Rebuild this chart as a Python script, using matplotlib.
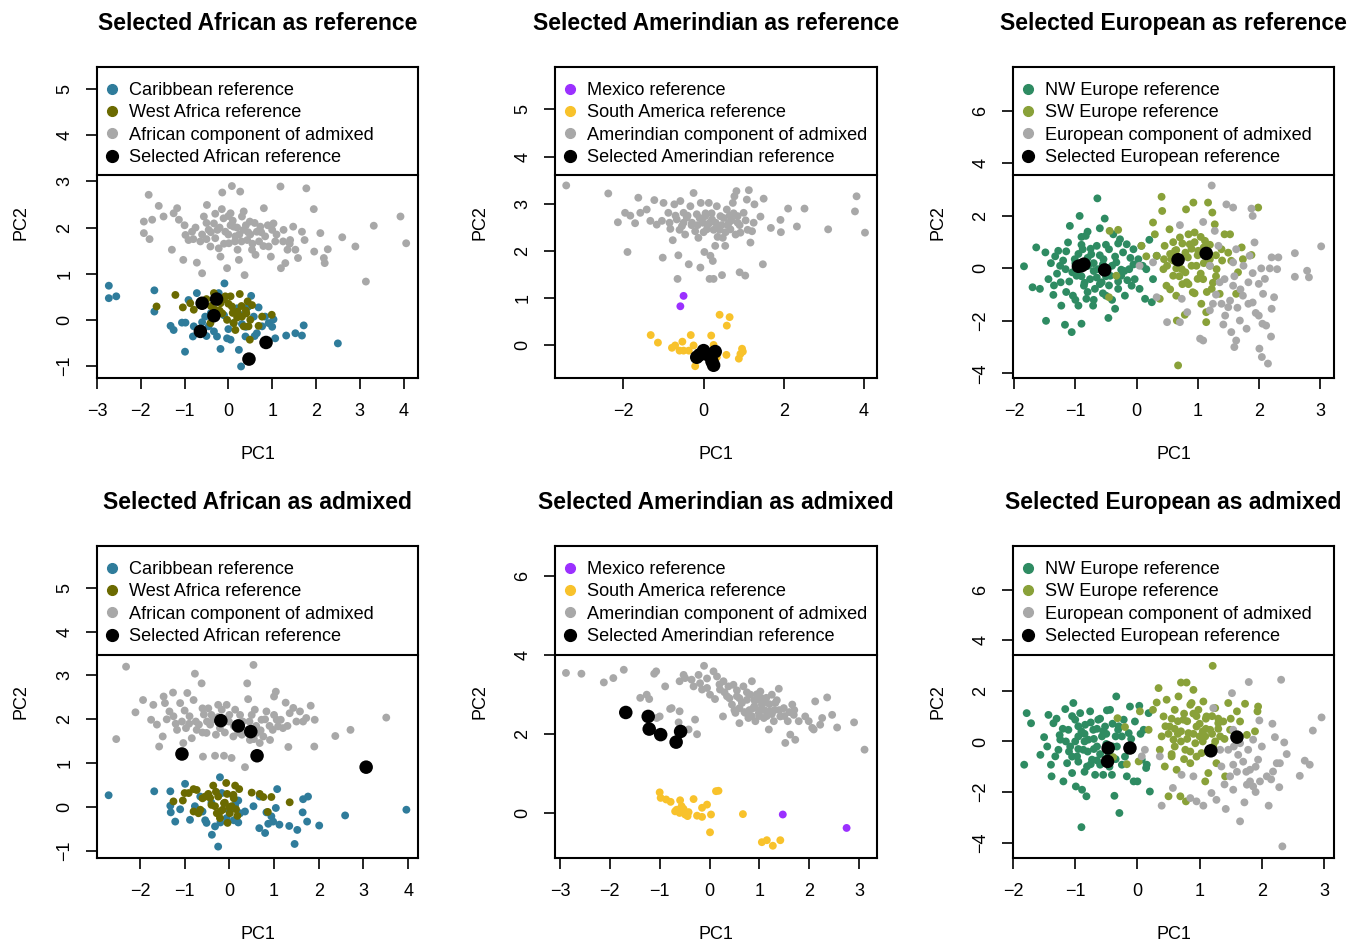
import matplotlib
matplotlib.use("Agg")
import matplotlib.pyplot as plt
from matplotlib.lines import Line2D
import numpy as np

plt.rcParams['font.family'] = ['Liberation Sans', 'DejaVu Sans']

# colours
col_carib = '#2F7C9B'
col_wafr = '#6B6A00'
col_mex = '#9B30FF'
col_sam = '#F8C22B'
col_nw = '#2E8B62'
col_sw = '#89A139'
col_adm = '#A8A8A8'
col_sel = 'black'

# ---------------- Selected African as reference ----------------
afr_ref_carib = [(-2.73, 0.74), (-2.73, 0.47), (-2.56, 0.51), (-1.69, 0.64), (-1.69, 0.18),
                 (-1.32, -0.13), (-1.25, -0.22), (-1.06, -0.06), (-0.98, -0.06), (-0.99, -0.69),
                 (-0.91, 0.43), (-0.79, -0.14), (-0.81, -0.36), (-0.72, 0.58), (-0.64, -0.29),
                 (-0.53, 0.07), (-0.45, -0.14), (-0.33, -0.25), (-0.26, -0.36), (-0.22, 0.58),
                 (-0.18, -0.63), (-0.09, 0.79), (-0.03, -0.40), (0.05, -0.43), (0.12, -0.07),
                 (0.24, -0.65), (0.29, -1.01), (0.31, -0.09), (0.39, -0.36), (0.46, 0.29),
                 (0.52, 0.52), (0.58, 0.07), (0.65, -0.29), (0.69, 0.27), (0.77, -0.14),
                 (0.84, 0.07), (0.92, -0.07), (1.03, 0.01), (1.07, -0.40), (1.32, -0.34),
                 (1.53, -0.29), (1.68, -0.34), (1.72, -0.12), (2.50, -0.51), (-0.60, -0.05),
                 (-0.40, 0.15), (0.00, -0.20), (0.20, 0.25), (0.40, -0.15), (-0.10, 0.10),
                 (0.60, -0.35), (1.00, -0.15), (-0.50, -0.35), (0.30, 0.10)]
afr_ref_wafr = [(-1.64, 0.29), (-1.21, 0.54), (-1.04, 0.27), (-0.87, 0.36), (-0.79, 0.22),
                (-0.64, 0.38), (-0.41, -0.07), (-0.33, 0.58), (-0.30, 0.22), (-0.18, 0.36),
                (-0.14, 0.14), (-0.07, 0.51), (-0.03, 0.00), (0.05, 0.51), (0.08, 0.29),
                (0.12, -0.07), (0.16, -0.22), (0.21, 0.18), (0.26, 0.56), (0.31, 0.07),
                (0.35, -0.14), (0.41, 0.14), (0.44, 0.40), (0.46, -0.14), (0.49, -0.43),
                (0.54, 0.32), (0.69, -0.13), (0.77, 0.07), (0.99, 0.11), (-0.50, 0.45),
                (-0.20, 0.20), (0.00, 0.35), (0.20, 0.05), (0.30, 0.30), (-0.40, 0.30),
                (0.10, 0.15), (0.40, 0.20), (-0.10, 0.45), (0.50, 0.00)]
afr_ref_adm = [(-1.82, 2.71), (-1.93, 1.88), (-1.80, 1.75), (-1.93, 2.13), (-1.74, 2.17),
               (-1.59, 2.47), (-1.48, 2.24), (-1.29, 1.52), (-1.25, 2.31), (-1.17, 2.42),
               (-1.13, 2.17), (-1.03, 1.30), (-0.98, 1.84), (-0.91, 1.73), (-0.83, 1.91),
               (-0.72, 1.24), (-0.64, 1.70), (-0.60, 1.01), (-0.56, 2.24), (-0.49, 2.49),
               (-0.45, 1.95), (-0.41, 1.59), (-0.33, 2.09), (-0.30, 1.77), (-0.22, 1.55),
               (-0.18, 1.37), (-0.14, 2.76), (-0.11, 2.20), (-0.07, 1.91), (-0.03, 1.12),
               (0.01, 1.66), (0.05, 2.31), (0.08, 2.90), (0.12, 2.02), (0.16, 1.81),
               (0.21, 1.52), (0.24, 1.30), (0.27, 2.78), (0.31, 2.24), (0.35, 1.95),
               (0.37, 0.97), (0.43, 1.73), (0.49, 2.13), (0.54, 1.52), (0.62, 1.41),
               (0.65, 1.91), (0.73, 2.02), (0.81, 2.42), (0.84, 1.81), (0.92, 1.59),
               (0.97, 1.37), (1.03, 2.09), (1.07, 1.70), (1.19, 2.89), (1.20, 1.12),
               (1.26, 1.95), (1.30, 1.23), (1.35, 1.52), (1.41, 1.73), (1.48, 2.02),
               (1.53, 1.52), (1.59, 1.34), (1.68, 1.91), (1.74, 1.73), (1.78, 2.85),
               (1.95, 2.40), (1.96, 1.48), (2.10, 1.88), (2.18, 1.34), (2.20, 1.23),
               (2.27, 1.53), (2.60, 1.79), (2.90, 1.59), (3.14, 0.83), (3.32, 2.04),
               (3.93, 2.24), (4.06, 1.66), (-0.20, 2.00), (0.00, 1.85), (0.10, 2.15),
               (0.30, 1.70), (0.50, 1.85), (-0.40, 1.90), (-0.60, 1.85), (0.60, 2.10),
               (0.90, 2.05), (0.20, 2.00), (-0.10, 1.65), (0.40, 2.05), (-0.30, 2.30),
               (0.70, 1.70), (1.10, 1.85), (0.00, 2.25), (-0.50, 2.10), (1.40, 1.65),
               (-0.80, 1.75), (0.80, 1.60), (-0.50, 1.75), (-0.25, 1.95), (0.05, 2.05),
               (0.25, 1.85), (0.45, 1.90), (0.75, 1.90), (1.00, 1.95), (-0.75, 2.00),
               (0.15, 1.70), (0.55, 1.65), (-0.15, 2.40), (0.35, 2.35), (1.25, 1.70),
               (-1.00, 2.05)]
afr_ref_sel = [(-0.60, 0.36), (-0.27, 0.45), (-0.33, 0.09), (-0.64, -0.25), (0.86, -0.49), (0.47, -0.85)]

# ---------------- Selected Amerindian as reference ----------------
ame_ref_mex = [(-0.50, 1.05), (-0.58, 0.83)]
ame_ref_sam = [(-1.32, 0.22), (-1.14, 0.06), (-0.79, -0.05), (-0.71, 0.00), (-0.60, -0.11),
               (-0.53, 0.08), (-0.50, -0.11), (-0.37, -0.11), (-0.32, 0.22), (-0.25, 0.00),
               (-0.21, -0.44), (-0.12, -0.18), (0.19, 0.21), (0.25, 0.01), (0.33, -0.25),
               (0.40, 0.65), (0.58, 0.42), (0.65, 0.60), (0.57, -0.20), (0.88, -0.28),
               (0.92, -0.18), (0.96, -0.07), (0.98, -0.13)]
ame_ref_adm = [(-3.43, 3.39), (-2.38, 3.22), (-2.14, 2.61), (-1.90, 1.98), (-1.96, 2.81),
               (-1.83, 2.75), (-1.71, 2.59), (-1.63, 3.13), (-1.58, 2.81), (-1.42, 2.88),
               (-1.33, 2.64), (-1.23, 3.08), (-1.17, 2.56), (-1.04, 2.64), (-1.00, 3.02),
               (-1.02, 1.86), (-0.88, 2.81), (-0.83, 2.47), (-0.77, 2.23), (-0.73, 2.99),
               (-0.67, 2.67), (-0.65, 1.41), (-0.63, 1.91), (-0.58, 3.06), (-0.54, 2.53),
               (-0.50, 2.81), (-0.46, 2.35), (-0.42, 2.71), (-0.37, 1.72), (-0.33, 2.95),
               (-0.29, 2.60), (-0.25, 3.23), (-0.21, 2.42), (-0.17, 2.78), (-0.13, 2.28),
               (-0.08, 1.65), (-0.07, 3.02), (-0.02, 2.60), (0.02, 1.98), (0.04, 2.74),
               (0.08, 2.46), (0.13, 3.02), (0.15, 1.41), (0.17, 1.90), (0.21, 2.67),
               (0.23, 1.79), (0.25, 1.41), (0.29, 2.11), (0.33, 2.95), (0.38, 2.53),
               (0.42, 2.74), (0.46, 1.49), (0.48, 2.28), (0.54, 2.11), (0.58, 2.88),
               (0.63, 2.60), (0.67, 2.46), (0.73, 3.02), (0.77, 3.16), (0.82, 3.27),
               (0.85, 2.74), (0.90, 1.55), (0.92, 2.39), (1.00, 2.81), (1.04, 1.48),
               (1.08, 3.09), (1.13, 3.29), (1.17, 2.18), (1.21, 2.42), (1.27, 2.99),
               (1.42, 2.73), (1.48, 1.72), (1.50, 3.11), (1.68, 2.49), (1.92, 2.66),
               (1.93, 2.40), (2.11, 2.90), (2.33, 2.52), (2.52, 2.90), (3.11, 2.46),
               (3.78, 2.84), (3.82, 3.16), (4.03, 2.39), (0.30, 2.60), (0.50, 2.70),
               (0.10, 2.55), (-0.10, 2.70), (0.40, 2.45), (0.60, 2.55), (-0.30, 2.55),
               (0.20, 2.80), (0.70, 2.65), (0.90, 2.55), (-0.50, 2.60), (1.10, 2.45),
               (0.00, 2.40), (-0.70, 2.75), (0.35, 2.30), (0.80, 2.35), (0.15, 2.60),
               (0.45, 2.55), (0.65, 2.75), (-0.15, 2.55), (0.25, 2.45), (0.55, 2.40),
               (-0.40, 2.75), (0.85, 2.60), (1.05, 2.65), (-0.60, 2.45), (0.05, 2.80),
               (1.25, 2.60), (0.75, 2.80), (-0.85, 2.60)]
ame_ref_sel = [(-0.10, -0.20), (-0.17, -0.25), (0.00, -0.11), (0.29, -0.13), (0.21, -0.34),
               (0.13, -0.21), (0.25, -0.42)]

# ---------------- Selected European as reference ----------------
eur_ref_nw = [(-1.84, 0.08), (-1.70, -0.72), (-1.64, 0.80), (-1.58, -0.78), (-1.48, -2.00),
              (-1.49, 0.61), (-1.44, -0.41), (-1.36, -1.01), (-1.33, 0.46), (-1.28, 0.67),
              (-1.24, -0.53), (-1.17, -2.15), (-1.23, -1.42), (-1.16, -0.03), (-1.12, 0.99),
              (-1.09, 1.62), (-1.06, -2.43), (-1.04, -1.04), (-1.01, 0.35), (-0.98, -0.28),
              (-0.95, -1.42), (-0.93, 2.00), (-0.90, -2.11), (-0.88, 0.73), (-0.86, -0.66),
              (-0.83, 1.24), (-0.82, -1.16), (-0.79, 0.10), (-0.76, -0.41), (-0.74, 0.54),
              (-0.71, -1.42), (-0.68, -0.78), (-0.64, 2.67), (-0.65, 0.86), (-0.63, -0.03),
              (-0.60, 1.53), (-0.57, -0.53), (-0.54, 0.35), (-0.52, 1.90), (-0.50, -1.04),
              (-0.46, -1.89), (-0.45, 0.73), (-0.43, -0.28), (-0.38, 1.30), (-0.35, -1.54),
              (-0.33, 0.23), (-0.30, -0.78), (-0.27, 1.11), (-0.25, -0.28), (-0.22, 0.61),
              (-0.19, -1.04), (-0.16, 0.92), (-0.12, -0.03), (-0.08, -0.66), (-0.05, 0.73),
              (-0.03, -0.41), (0.03, 0.35), (0.05, -0.78), (0.08, 0.86), (0.14, -1.16),
              (0.16, -0.03), (0.21, 1.09), (0.25, -1.29), (0.27, -0.41), (0.33, 0.48),
              (-1.00, 0.20), (-0.90, -0.30), (-0.80, 0.40), (-0.70, -0.10), (-0.60, 0.50),
              (-0.50, -0.30), (-0.40, 0.10), (-0.30, -0.50), (-0.60, -0.60), (-0.80, -0.90),
              (-1.10, -0.50), (-1.20, 0.30), (-0.90, 0.90), (-0.50, 0.90), (-0.20, -0.10),
              (-0.70, 0.20), (-1.00, -1.20), (-0.40, -1.20), (-1.30, -0.20), (-0.10, 0.40),
              (-0.80, 1.40), (-1.15, -0.90), (-1.25, 0.10), (-1.05, -0.15), (-0.95, 0.55),
              (-0.85, -0.55), (-0.75, 0.75), (-0.65, -0.35), (-0.55, 0.15), (-0.45, -0.65),
              (-0.35, 0.45), (-0.25, -0.05), (-0.15, -0.45), (-0.05, 0.15), (-1.15, 0.65),
              (-1.35, -0.65), (-0.70, -1.20), (-0.30, 0.95), (-0.90, 1.20), (-0.55, -0.95),
              (0.10, 0.10), (-1.40, 0.20)]
eur_ref_sw = [(-0.44, 1.43), (-0.30, 1.47), (-0.33, -0.28), (-0.45, -1.10), (0.08, 0.86),
              (0.16, 0.46), (0.27, 1.75), (0.30, 1.30), (0.33, 0.48), (0.41, 2.73),
              (0.42, 2.19), (0.38, -1.16), (0.44, -0.03), (0.46, 0.86), (0.49, -0.66),
              (0.54, 1.49), (0.57, 0.35), (0.60, -0.28), (0.63, 0.67), (0.65, -1.04),
              (0.66, -1.99), (0.68, -3.70), (0.71, 1.18), (0.74, -0.03), (0.79, -1.77),
              (0.81, 2.25), (0.82, -0.53), (0.84, 0.42), (0.87, 0.92), (0.92, -0.91),
              (0.93, 2.51), (0.95, 1.37), (0.98, 0.10), (1.01, 0.67), (1.06, -1.35),
              (1.09, -0.41), (1.12, 1.05), (1.14, -1.67), (1.17, 2.51), (1.20, 0.35),
              (1.23, -0.78), (1.24, 2.13), (1.28, 1.68), (1.31, -0.03), (1.36, -0.97),
              (1.39, 0.73), (1.44, 1.30), (1.53, 1.30), (1.55, 0.29), (1.63, -0.97),
              (1.66, -0.15), (1.72, 0.80), (1.74, 0.35), (1.88, 0.51), (1.99, 2.32),
              (1.14, -2.05), (0.60, 0.30), (0.80, 0.60), (0.90, 0.10), (1.00, 0.50),
              (0.70, -0.30), (0.50, 0.10), (1.10, 0.20), (0.85, -0.60), (1.20, 0.90),
              (0.95, 1.00), (0.75, 0.95), (1.05, -0.20), (0.65, 0.70), (1.30, 0.50),
              (0.55, -0.80), (1.15, -0.90), (0.55, 0.55), (0.70, 0.20), (0.80, -0.15),
              (0.90, 0.75), (1.00, -0.40), (1.10, 0.80), (1.20, 0.10), (1.30, -0.30),
              (1.40, 0.30), (0.60, 1.00), (0.85, 1.30), (1.05, 1.20), (0.45, 0.35),
              (0.75, -0.60), (1.25, -0.55), (1.50, 0.60), (0.95, -0.95), (0.65, 0.00)]
eur_ref_adm = [(1.23, 3.16), (0.71, 1.65), (1.09, 1.77), (1.28, 1.43), (1.47, 2.44),
               (1.58, 2.32), (1.88, 2.28), (1.90, 2.00), (1.93, 0.99), (2.21, 0.42),
               (2.32, 0.42), (2.59, 0.58), (3.02, 0.84), (2.79, -0.09), (2.82, -0.34),
               (2.59, -0.32), (2.18, 0.00), (2.04, 0.00), (1.90, -0.18), (1.58, 0.23),
               (1.83, -0.53), (2.07, -0.97), (2.25, -1.10), (2.21, -1.54), (1.83, -1.35),
               (1.95, -1.70), (2.06, -2.11), (2.12, -2.18), (2.01, -3.06), (2.05, -3.38),
               (2.15, -3.63), (1.60, -3.00), (1.63, -2.75), (1.55, -2.43), (1.69, -1.99),
               (1.42, -2.14), (1.50, -1.48), (1.25, -1.35), (1.09, -2.75), (1.04, -2.68),
               (0.83, -1.67), (0.74, -1.16), (0.50, -2.05), (0.71, -2.05), (0.33, -1.10),
               (0.05, 0.10), (0.27, 0.23), (1.20, 0.10), (1.36, -0.53), (1.58, -0.66),
               (1.74, -1.04), (1.53, -1.23), (1.34, 0.86), (1.63, 0.73), (1.85, 0.48),
               (1.44, -0.41), (2.00, -0.59), (2.30, -0.03), (1.39, -1.35), (1.60, -0.30),
               (1.70, -0.80), (1.90, -1.30), (2.00, -1.80), (1.80, -2.30), (1.45, -1.80),
               (1.30, -1.00), (1.75, 0.10), (2.10, -0.40), (1.20, -1.60), (1.65, -1.50),
               (2.20, -2.60)]
eur_ref_sel = [(-0.95, 0.08), (-0.86, 0.16), (-0.90, 0.10), (-0.52, -0.06), (0.68, 0.33), (1.14, 0.57)]

# ---------------- Selected African as admixed ----------------
afr_adm_carib = [(-2.70, 0.27), (-1.68, 0.36), (-1.32, 0.36), (-1.32, 0.03), (-1.31, -0.12),
                 (-1.21, -0.33), (-1.10, -0.05), (-0.99, 0.53), (-0.88, -0.29), (-0.77, 0.02),
                 (-0.65, 0.24), (-0.54, -0.30), (-0.51, -0.36), (-0.39, -0.63), (-0.32, -0.44),
                 (-0.25, -0.90), (-0.21, 0.68), (-0.17, 0.32), (-0.06, -0.25), (0.09, 0.24),
                 (0.13, 0.05), (0.20, -0.35), (0.24, -0.14), (0.35, -0.10), (0.67, -0.48),
                 (0.80, -0.59), (0.83, -0.12), (0.87, -0.38), (0.94, -0.21), (0.98, -0.33),
                 (1.04, -0.02), (1.07, 0.41), (1.12, -0.40), (1.34, -0.43), (1.52, -0.52),
                 (1.46, -0.84), (1.64, -0.12), (1.65, 0.18), (1.76, 0.24), (1.74, -0.33),
                 (2.01, -0.42), (2.59, -0.19), (3.96, -0.06), (0.68, 0.24), (0.54, 0.02),
                 (-0.40, 0.10), (0.00, -0.10), (0.20, 0.15), (-0.20, -0.35), (0.10, -0.30),
                 (-0.60, -0.10)]
afr_adm_wafr = [(-1.25, 0.13), (-1.04, 0.15), (-1.00, 0.32), (-0.91, 0.32), (-0.80, 0.41),
                (-0.73, 0.39), (-0.69, -0.14), (-0.65, -0.06), (-0.80, -0.10), (-0.54, 0.24),
                (-0.47, 0.30), (-0.43, 0.21), (-0.36, 0.49), (-0.32, 0.02), (-0.28, -0.14),
                (-0.25, 0.24), (-0.21, -0.25), (-0.15, -0.06), (-0.12, 0.09), (-0.07, 0.55),
                (-0.04, -0.36), (0.01, -0.14), (0.05, 0.02), (0.09, 0.28), (0.13, 0.49),
                (0.18, -0.20), (0.22, 0.41), (0.50, 0.33), (0.68, 0.30), (0.76, 0.23),
                (0.86, -0.11), (0.94, 0.23), (1.35, 0.11), (-0.60, 0.20), (-0.30, 0.35),
                (-0.10, 0.10), (0.10, 0.20), (-0.20, -0.10), (0.00, 0.00), (-0.40, 0.05),
                (0.15, -0.05), (-0.05, 0.30)]
afr_adm_adm = [(-2.31, 3.20), (-2.53, 1.55), (-2.10, 2.16), (-1.93, 2.44), (-1.75, 1.99),
               (-1.70, 2.33), (-1.62, 1.88), (-1.57, 1.38), (-1.49, 1.61), (-1.47, 2.52),
               (-1.44, 2.37), (-1.34, 2.18), (-1.26, 2.61), (-1.25, 2.07), (-1.17, 1.76),
               (-1.10, 2.37), (-1.06, 1.95), (-1.03, 1.46), (-0.97, 1.80), (-0.94, 2.60),
               (-0.89, 2.07), (-0.84, 1.57), (-0.80, 2.44), (-0.77, 3.04), (-0.73, 1.76),
               (-0.68, 1.88), (-0.62, 2.82), (-0.59, 1.15), (-0.57, 2.11), (-0.51, 1.69),
               (-0.47, 2.25), (-0.43, 1.88), (-0.36, 2.00), (-0.32, 1.17), (-0.30, 1.65),
               (-0.25, 2.33), (-0.21, 1.80), (-0.17, 2.22), (-0.12, 1.17), (-0.06, 2.33),
               (-0.01, 1.95), (0.05, 1.12), (0.09, 1.61), (0.13, 2.22), (0.18, 1.88),
               (0.24, 2.10), (0.28, 1.65), (0.35, 0.91), (0.40, 2.82), (0.42, 2.46),
               (0.46, 1.53), (0.50, 2.10), (0.54, 3.24), (0.57, 2.22), (0.61, 1.69),
               (0.68, 1.46), (0.72, 1.99), (0.76, 1.61), (0.83, 2.18), (0.91, 1.53),
               (0.97, 1.76), (1.00, 2.52), (1.04, 2.63), (1.06, 1.99), (1.09, 1.84),
               (1.15, 1.99), (1.26, 2.38), (1.32, 1.37), (1.35, 2.14), (1.43, 2.26),
               (1.50, 1.95), (1.58, 2.18), (1.65, 1.95), (1.72, 2.03), (1.82, 2.31),
               (1.91, 1.99), (1.90, 1.38), (2.37, 1.62), (2.71, 1.76), (3.51, 2.04),
               (-0.90, 1.90), (-0.60, 1.70), (-0.40, 2.10), (0.10, 1.85), (0.30, 1.95),
               (0.60, 1.85), (0.90, 1.85), (1.20, 1.80), (-1.20, 1.90), (-0.10, 1.70),
               (0.40, 1.75), (0.80, 2.00), (-1.00, 2.20), (-0.75, 1.95), (-0.50, 1.95),
               (-0.25, 2.05), (0.00, 2.10), (0.20, 1.70), (0.45, 1.95), (0.70, 1.75),
               (1.00, 2.10), (1.30, 1.85), (-1.40, 2.00), (-0.60, 2.25), (0.55, 1.55)]
afr_adm_sel = [(-0.19, 1.97), (0.20, 1.85), (0.48, 1.72), (-1.06, 1.21), (0.62, 1.17), (3.06, 0.91)]

# ---------------- Selected Amerindian as admixed ----------------
ame_adm_mex = [(1.47, -0.04), (2.75, -0.38)]
ame_adm_sam = [(-1.00, 0.52), (-0.98, 0.38), (-0.87, 0.34), (-0.78, 0.28), (-0.69, 0.04),
               (-0.60, 0.00), (-0.59, 0.32), (-0.56, 0.17), (-0.52, 0.04), (-0.49, -0.04),
               (-0.44, -0.08), (-0.42, 0.02), (-0.32, 0.35), (-0.25, -0.07), (-0.15, -0.10),
               (-0.15, 0.13), (-0.05, 0.21), (0.03, -0.04), (0.01, -0.49), (0.13, 0.55),
               (0.18, 0.56), (0.67, -0.03), (1.05, -0.74), (1.15, -0.69), (1.27, -0.83),
               (1.42, -0.69), (-0.66, 0.08), (-0.52, 0.10)]
ame_adm_adm = [(-2.88, 3.54), (-2.57, 3.52), (-2.12, 3.30), (-1.93, 3.41), (-1.72, 3.62),
               (-1.39, 2.91), (-1.26, 2.99), (-1.21, 2.88), (-1.11, 3.52), (-1.07, 3.58),
               (-1.06, 2.40), (-1.00, 2.44), (-0.89, 3.20), (-0.79, 2.63), (-0.76, 2.65),
               (-0.60, 3.33), (-0.60, 2.57), (-0.62, 2.29), (-0.52, 3.49), (-0.49, 3.41),
               (-0.42, 2.11), (-0.36, 3.37), (-0.32, 3.20), (-0.29, 2.36), (-0.25, 1.99),
               (-0.22, 3.49), (-0.19, 3.28), (-0.15, 3.12), (-0.11, 3.72), (-0.05, 3.16),
               (0.01, 2.99), (0.08, 3.58), (0.11, 2.88), (0.15, 3.45), (0.21, 3.12),
               (0.27, 2.44), (0.28, 3.33), (0.35, 2.95), (0.38, 3.20), (0.45, 2.74),
               (0.48, 3.24), (0.52, 2.53), (0.55, 2.95), (0.60, 2.27), (0.65, 2.78),
               (0.68, 3.20), (0.72, 2.53), (0.75, 2.86), (0.78, 2.40), (0.82, 2.99),
               (0.85, 3.33), (0.88, 2.65), (0.92, 2.32), (0.95, 2.86), (0.99, 2.53),
               (1.02, 3.07), (1.05, 2.74), (1.09, 2.40), (1.14, 2.91), (1.19, 2.11),
               (1.21, 2.57), (1.25, 2.99), (1.29, 2.32), (1.32, 2.78), (1.39, 3.14),
               (1.42, 2.44), (1.49, 2.65), (1.52, 1.77), (1.57, 2.32), (1.62, 1.98),
               (1.66, 2.74), (1.69, 2.48), (1.72, 1.85), (1.79, 2.32), (1.92, 2.44),
               (1.99, 2.32), (2.06, 2.15), (2.09, 2.11), (2.12, 2.82), (2.22, 2.23),
               (2.26, 2.40), (2.36, 2.92), (2.46, 2.48), (2.56, 2.16), (2.90, 2.29),
               (3.11, 1.60), (0.90, 2.70), (1.00, 2.60), (1.10, 2.80), (0.80, 2.60),
               (1.20, 2.75), (0.70, 2.55), (1.30, 2.60), (0.60, 2.90), (1.00, 2.45),
               (1.15, 2.45), (0.95, 3.00), (0.30, 3.05), (0.50, 2.60), (1.40, 2.60),
               (1.60, 2.55), (0.40, 2.90), (0.60, 2.65), (0.75, 3.05), (0.85, 2.45),
               (1.05, 2.90), (1.25, 2.50), (1.35, 2.85), (1.50, 2.45), (0.55, 3.10),
               (0.20, 3.25), (-0.05, 3.40), (0.90, 2.85), (1.10, 2.60), (1.70, 2.60)]
ame_adm_sel = [(-1.68, 2.54), (-1.23, 2.44), (-1.21, 2.12), (-0.98, 1.98), (-0.67, 1.79), (-0.58, 2.06)]

# ---------------- Selected European as admixed ----------------
eur_adm_nw = [(-1.78, 1.12), (-1.71, 0.72), (-1.82, -0.92), (-1.56, -0.53), (-1.50, 0.17),
              (-1.43, 1.05), (-1.39, -0.92), (-1.38, -1.38), (-1.35, 0.72), (-1.32, -0.59),
              (-1.27, -0.33), (-1.24, 0.07), (-1.19, -1.58), (-1.16, 1.28), (-1.13, -0.86),
              (-1.11, 0.46), (-1.08, -0.20), (-1.05, -1.25), (-1.03, 1.52), (-1.00, 0.86),
              (-0.99, -1.78), (-0.97, -0.59), (-0.95, 0.20), (-0.92, 1.12), (-0.90, -3.39),
              (-0.89, -1.91), (-0.87, -0.33), (-0.84, 0.66), (-0.82, -2.17), (-0.81, -0.99),
              (-0.79, 0.07), (-0.76, 1.19), (-0.73, -0.72), (-0.71, 0.46), (-0.68, -1.32),
              (-0.65, -0.20), (-0.63, 0.86), (-0.60, -0.92), (-0.57, 0.20), (-0.55, -1.32),
              (-0.52, 0.59), (-0.49, 1.23), (-0.47, -0.59), (-0.44, 1.25), (-0.41, -1.32),
              (-0.37, -2.15), (-0.34, 1.78), (-0.33, -0.20), (-0.31, 0.46), (-0.29, -2.83),
              (-0.25, -0.92), (-0.22, 0.86), (-0.17, -1.38), (-0.14, 0.33), (-0.12, 1.38),
              (-0.09, -0.33), (-0.06, -1.58), (-0.04, 0.79), (0.00, -1.58), (0.03, 1.41),
              (0.07, -0.72), (0.10, 0.46), (0.14, -1.05), (0.18, 1.12), (0.20, -1.98),
              (0.15, -0.92), (-1.00, 0.00), (-0.90, 0.40), (-0.80, -0.40), (-0.70, 0.10),
              (-0.60, -0.50), (-0.50, 0.30), (-0.40, -0.20), (-0.30, 0.60), (-0.20, -0.60),
              (-1.10, -0.40), (-1.20, 0.50), (-0.85, -1.20), (-0.60, 0.90), (-0.95, -0.80),
              (-0.45, -1.00), (-0.10, 0.10), (-1.05, 1.00), (-0.75, -0.90), (-0.35, 0.20),
              (-0.65, 0.50), (-1.25, 0.25), (-1.05, -0.60), (-0.95, 0.60), (-0.85, 0.00),
              (-0.75, 0.75), (-0.65, -0.75), (-0.55, 0.40), (-0.45, -0.40), (-0.35, -0.70),
              (-0.25, 0.20), (-0.15, -0.20), (-1.15, 0.00), (-1.30, 0.90), (-0.70, -0.30),
              (-0.50, -0.10), (-0.85, 0.30), (-0.40, 0.70), (-0.95, -0.30), (-1.45, -0.20),
              (0.05, 0.30)]
eur_adm_sw = [(-0.32, 0.92), (-0.20, 0.57), (-0.39, -0.62), (0.02, -0.79), (0.04, 1.19),
              (0.18, 0.46), (0.25, 1.25), (0.31, 1.54), (0.34, 2.11), (0.36, -0.33),
              (0.39, 0.20), (0.42, 0.99), (0.44, -0.99), (0.47, 1.65), (0.50, -2.17),
              (0.52, 0.59), (0.55, -0.59), (0.58, 0.07), (0.60, 1.25), (0.63, -1.12),
              (0.66, 1.78), (0.69, -2.17), (0.70, 2.33), (0.74, 0.86), (0.77, -0.33),
              (0.78, -2.37), (0.79, 2.33), (0.82, 0.33), (0.85, -0.86), (0.87, 1.52),
              (0.90, 2.04), (0.93, -0.07), (0.95, 0.59), (0.98, 1.25), (1.03, -0.46),
              (1.06, 1.58), (1.09, 0.20), (1.11, 0.99), (1.14, -1.25), (1.17, 0.46),
              (1.21, 2.99), (1.22, -0.20), (1.25, 1.32), (1.27, -0.86), (1.30, 0.72),
              (1.33, 0.20), (1.38, 0.79), (1.41, -1.38), (1.46, 1.52), (1.49, 0.46),
              (1.60, 1.19), (1.65, 0.79), (1.73, 1.49), (1.76, 0.26), (1.89, 0.40),
              (1.93, 1.19), (1.94, 1.38), (1.09, -1.58), (-0.17, -0.90), (0.60, 0.50),
              (0.80, 0.80), (0.90, 0.30), (1.00, 0.70), (0.70, 0.00), (0.50, 0.30),
              (1.10, 0.50), (0.85, -0.40), (1.20, 1.00), (0.95, 1.00), (0.75, 1.10),
              (1.05, 0.00), (0.65, 0.80), (1.30, 0.50), (0.55, -0.50), (0.55, 0.90),
              (0.70, 0.40), (0.80, 0.10), (0.90, 1.10), (1.00, 0.20), (1.10, 0.90),
              (1.20, 0.30), (1.30, 0.90), (1.40, 0.10), (0.60, -0.20), (0.85, 1.45),
              (1.05, 0.40), (0.45, 0.60), (0.75, -0.70), (1.25, 0.00), (1.50, 0.90),
              (0.95, -0.60), (0.65, 0.30)]
eur_adm_adm = [(1.79, 2.35), (2.31, 2.44), (1.52, 1.91), (1.22, 1.32), (1.96, 0.83),
               (2.17, 0.70), (2.36, -0.04), (2.21, 0.17), (2.96, 0.95), (2.82, 0.43),
               (2.69, -0.76), (2.77, -0.92), (2.61, -1.36), (2.29, -0.86), (2.18, -1.19),
               (2.28, -1.81), (2.11, -2.54), (2.24, -0.86), (2.08, -1.38), (1.97, -1.58),
               (1.86, -1.78), (1.81, -1.58), (1.76, -1.71), (1.72, -2.41), (1.65, -3.16),
               (2.33, -4.15), (1.54, -1.91), (1.42, -2.67), (1.27, -2.31), (1.19, -2.04),
               (1.06, -2.54), (0.95, -2.37), (0.85, -2.24), (0.39, -2.54), (0.57, -1.84),
               (0.71, -1.32), (0.90, -1.38), (1.49, -1.38), (1.54, -0.92), (1.62, -0.53),
               (1.78, -0.33), (1.86, 0.07), (1.46, -0.33), (1.65, -0.07), (1.33, -0.33),
               (1.94, -0.72), (1.54, 0.46), (0.12, -0.33), (0.36, -0.59), (0.07, -0.59),
               (1.35, -0.99), (1.81, -1.12), (1.70, -0.80), (1.90, -1.00), (2.00, -0.20),
               (1.60, -1.20), (2.15, -1.50), (1.40, -1.70), (1.75, -1.20), (2.40, -0.50),
               (1.55, -0.20), (1.90, -2.00)]
eur_adm_sel = [(-0.47, -0.26), (-0.12, -0.26), (-0.48, -0.79), (1.18, -0.37), (1.60, 0.17)]

W, H = 1348, 942
fig = plt.figure(figsize=(W / 100, H / 100), dpi=100)


def add_panel(left, top, w, h):
    return fig.add_axes([left / W, 1 - (top + h) / H, w / W, h / H])


def draw_panel(ax, title, refs, adm, sel, adm_label, sel_label, xlim, ylim, xticks, yticks):
    for pts, col, lab in refs:
        a = np.array(pts)
        ax.scatter(a[:, 0], a[:, 1], s=32, color=col, edgecolors='none', zorder=2)
    a = np.array(adm)
    ax.scatter(a[:, 0], a[:, 1], s=32, color=col_adm, edgecolors='none', zorder=2)
    a = np.array(sel)
    ax.scatter(a[:, 0], a[:, 1], s=95, color=col_sel, edgecolors='none', zorder=3)

    ax.set_xlim(*xlim)
    ax.set_ylim(*ylim)
    ax.set_xticks(xticks)
    ax.set_yticks(yticks)
    ax.tick_params(direction='out', length=8, width=1.2, labelsize=13)
    ax.tick_params(axis='x', pad=10)
    ax.tick_params(axis='y', pad=9)
    for lab in ax.get_yticklabels():
        lab.set_rotation(90)
        lab.set_va('center')
    for sp in ax.spines.values():
        sp.set_linewidth(1.5)
    ax.set_title(title, fontsize=16.5, fontweight='bold', pad=27)
    ax.set_xlabel('PC1', fontsize=13, labelpad=19)
    ax.set_ylabel('PC2', fontsize=13, labelpad=19)

    # legend box spanning the top of the panel (as in base R)
    ax.plot([0, 1], [0.652, 0.652], transform=ax.transAxes, color='black', lw=1.5, zorder=5, clip_on=False)
    handles = [Line2D([], [], marker='o', ls='none', color=c, markersize=7) for _, c, _ in refs]
    handles.append(Line2D([], [], marker='o', ls='none', color=col_adm, markersize=7))
    handles.append(Line2D([], [], marker='o', ls='none', color=col_sel, markersize=8.5))
    labels = [l for _, _, l in refs] + [adm_label, sel_label]
    ax.legend(handles, labels, loc='upper left', bbox_to_anchor=(-2 / 321, 1 - 7 / 311), borderaxespad=0,
              frameon=False, fontsize=13.1, labelspacing=0.29, borderpad=0.45,
              handlelength=1.0, handletextpad=0.42)


ax1 = add_panel(97, 67, 321, 311)
draw_panel(ax1, 'Selected African as reference',
           [(afr_ref_carib, col_carib, 'Caribbean reference'), (afr_ref_wafr, col_wafr, 'West Africa reference')],
           afr_ref_adm, afr_ref_sel, 'African component of admixed', 'Selected African reference',
           (-3.0, 4.33), (-1.26, 5.48), range(-3, 5), range(-1, 6))

ax2 = add_panel(555, 67, 322, 311)
draw_panel(ax2, 'Selected Amerindian as reference',
           [(ame_ref_mex, col_mex, 'Mexico reference'), (ame_ref_sam, col_sam, 'South America reference')],
           ame_ref_adm, ame_ref_sel, 'Amerindian component of admixed', 'Selected Amerindian reference',
           (-3.71, 4.33), (-0.69, 5.9), [-2, 0, 2, 4], range(0, 6))

ax3 = add_panel(1013, 67, 321, 311)
draw_panel(ax3, 'Selected European as reference',
           [(eur_ref_nw, col_nw, 'NW Europe reference'), (eur_ref_sw, col_sw, 'SW Europe reference')],
           eur_ref_adm, eur_ref_sel, 'European component of admixed', 'Selected European reference',
           (-2.02, 3.23), (-4.18, 7.68), range(-2, 4), [-4, -2, 0, 2, 4, 6])

ax4 = add_panel(97, 546, 321, 312)
draw_panel(ax4, 'Selected African as admixed',
           [(afr_adm_carib, col_carib, 'Caribbean reference'), (afr_adm_wafr, col_wafr, 'West Africa reference')],
           afr_adm_adm, afr_adm_sel, 'African component of admixed', 'Selected African reference',
           (-2.96, 4.22), (-1.16, 5.95), range(-2, 5), range(-1, 6))

ax5 = add_panel(555, 546, 322, 312)
draw_panel(ax5, 'Selected Amerindian as admixed',
           [(ame_adm_mex, col_mex, 'Mexico reference'), (ame_adm_sam, col_sam, 'South America reference')],
           ame_adm_adm, ame_adm_sel, 'Amerindian component of admixed', 'Selected Amerindian reference',
           (-3.10, 3.36), (-1.14, 6.75), range(-3, 4), [0, 2, 4, 6])

ax6 = add_panel(1013, 546, 321, 312)
draw_panel(ax6, 'Selected European as admixed',
           [(eur_adm_nw, col_nw, 'NW Europe reference'), (eur_adm_sw, col_sw, 'SW Europe reference')],
           eur_adm_adm, eur_adm_sel, 'European component of admixed', 'Selected European reference',
           (-1.99, 3.16), (-4.61, 7.73), range(-2, 4), [-4, -2, 0, 2, 4, 6])

fig.savefig('out.png', dpi=100)
